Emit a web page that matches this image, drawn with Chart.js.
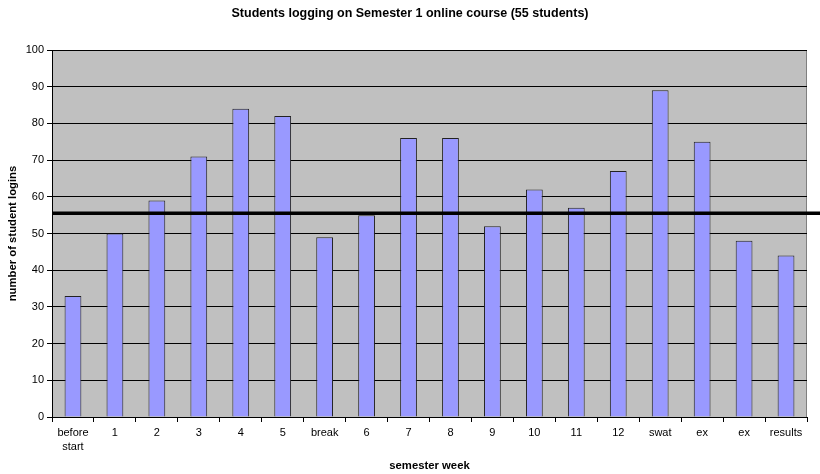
<!DOCTYPE html>
<html>
<head>
<meta charset="utf-8">
<script src="https://cdn.jsdelivr.net/npm/chart.js@4/dist/chart.umd.min.js"></script>
<style>
html,body{margin:0;padding:0;background:#fff;}
#wrap{width:820px;height:474px;}
</style>
</head>
<body>
<div id="wrap"><canvas id="c" width="820" height="474"></canvas></div>
<script>
const chartTitle = 'Students logging on Semester 1 online course (55 students)';
const categories = [['before','start'],'1','2','3','4','5','break','6','7','8','9','10','11','12','swat','ex','ex','results'];
const logins = [33,50,59,71,84,82,49,55,76,76,52,62,57,67,89,75,48,44];
const averageLine = [55.5];
const yTicks = [0,10,20,30,40,50,60,70,80,90,100];

const FONT = 'Arial, "Liberation Sans", Helvetica, sans-serif';

const plotBg = {
  id:'plotBg',
  beforeDraw(chart){
    const {ctx, chartArea:a} = chart;
    ctx.save();
    ctx.fillStyle = '#C0C0C0';
    ctx.fillRect(a.left, a.top, a.right-a.left, a.bottom-a.top);
    ctx.strokeStyle = '#808080';
    ctx.lineWidth = 1;
    ctx.beginPath();
    ctx.moveTo(a.left, a.top+0.5); ctx.lineTo(a.right-0.5, a.top+0.5); ctx.lineTo(a.right-0.5, a.bottom);
    ctx.stroke();
    ctx.restore();
  },
  afterDraw(chart){
    const ctx = chart.ctx;
    ctx.save();
    ctx.fillStyle = '#000';
    ctx.font = 'bold 12.5px ' + FONT;
    ctx.textAlign = 'center';
    ctx.textBaseline = 'middle';
    ctx.fillText(chartTitle, chart.width/2, 14);
    ctx.restore();
  }
};
const avgPlugin = {
  id:'avgLine',
  afterDatasetsDraw(chart){
    const {ctx, chartArea:a, scales:{y}} = chart;
    const py = y.getPixelForValue(averageLine[0]);
    ctx.save();
    ctx.strokeStyle = '#000';
    ctx.lineWidth = 3.5;
    ctx.beginPath();
    ctx.moveTo(a.left, py); ctx.lineTo(chart.width, py);
    ctx.stroke();
    ctx.restore();
  }
};

new Chart(document.getElementById('c'), {
  type:'bar',
  data:{
    labels:categories,
    datasets:[{
      data:logins,
      backgroundColor:'#9999FF',
      borderColor:'#222',
      borderWidth:1,
      barPercentage:0.8,
      categoryPercentage:0.5
    }]
  },
  options:{
    responsive:false,
    animation:false,
    layout:{padding:{left:0,right:13,top:50,bottom:0}},
    plugins:{
      legend:{display:false},
      tooltip:{enabled:false},
      title:{display:false}
    },
    scales:{
      x:{
        offset:true,
        grid:{display:true,drawOnChartArea:false,drawTicks:true,tickLength:5,color:'#000',offset:true},
        border:{color:'#000'},
        ticks:{color:'#000',font:{family:FONT,size:11,lineHeight:1.3},padding:4,maxRotation:0,autoSkip:false},
        title:{display:true,text:'semester week',color:'#000',font:{family:FONT,size:11.3,weight:'bold',lineHeight:1.2},padding:{top:0,bottom:1}},
        afterFit(s){ s.height = 57; }
      },
      y:{
        min:0,max:100,
        afterBuildTicks(s){ s.ticks = yTicks.map(v=>({value:v})); },
        grid:{color:'#000',tickLength:5,drawTicks:true},
        border:{color:'#000'},
        ticks:{color:'#000',font:{family:FONT,size:11},padding:3},
        title:{display:true,text:'number of student logins',color:'#000',font:{family:FONT,size:11.3,weight:'bold',lineHeight:1.2},padding:{top:6,bottom:4}},
        afterFit(s){ s.width = 52; }
      }
    }
  },
  plugins:[plotBg, avgPlugin]
});
</script>
</body>
</html>
